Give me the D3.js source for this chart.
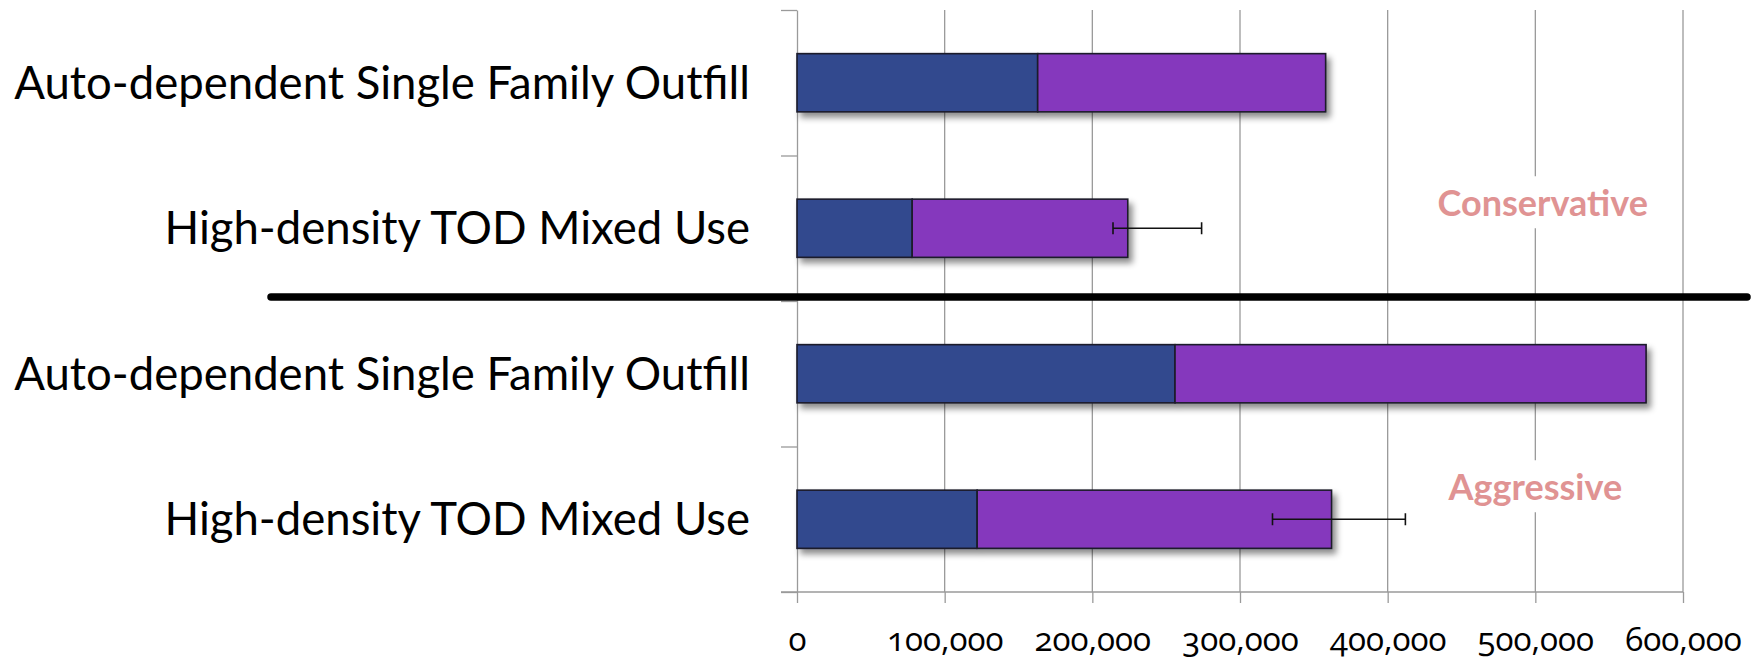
<!DOCTYPE html>
<html>
<head>
<meta charset="utf-8">
<script src="https://d3js.org/d3.v7.min.js"></script>
<style>
  body { margin: 0; background: #fff; }
  svg { display: block; }
</style>
</head>
<body>
<svg id="chart"></svg>
<script>
  // values
  var categories = [
    "Auto-dependent Single Family Outfill",
    "High-density TOD Mixed Use",
    "Auto-dependent Single Family Outfill",
    "High-density TOD Mixed Use"
  ];
  var seriesBlue = [163000, 78000, 256000, 122000];
  var seriesPurple = [195000, 146000, 319000, 240000];
  var errLow = [null, 214000, null, 322000];
  var errHigh = [null, 274000, null, 412000];
  var xTicks = [0, 100000, 200000, 300000, 400000, 500000, 600000];
  var notes = ["Conservative", "Aggressive"];
  var noteX = [505000, 500000];
  var noteRow = [1, 3];

  var width = 1763, height = 658;
  var plotLeft = 797, plotRight = 1683, plotTop = 10, plotBottom = 592;

  var svg = d3.select("#chart").attr("width", width).attr("height", height);

  var rows = categories.map(function(c, i) {
    return { id: i, label: c, blue: seriesBlue[i], purple: seriesPurple[i] };
  });
  var stacked = d3.stack().keys(["blue", "purple"])(rows);

  var x = d3.scaleLinear().domain([0, 600000]).range([plotLeft, plotRight]);
  var y = d3.scaleBand().domain(d3.range(categories.length))
    .range([plotTop, plotBottom]).paddingInner(0.6).paddingOuter(0.3);
  var yEdges = d3.scaleLinear().domain([0, categories.length]).range([plotTop, plotBottom]);

  var defs = svg.append("defs");
  var f = defs.append("filter").attr("id", "shadow")
    .attr("x", "-5%").attr("y", "-20%").attr("width", "115%").attr("height", "160%");
  f.append("feDropShadow").attr("dx", 4).attr("dy", 5).attr("stdDeviation", 3)
    .attr("flood-color", "#000").attr("flood-opacity", 0.45);

  // gridlines
  svg.append("g").selectAll("line")
    .data(xTicks.slice(1))
    .enter().append("line")
    .attr("x1", function(d) { return x(d); })
    .attr("x2", function(d) { return x(d); })
    .attr("y1", plotTop).attr("y2", plotBottom)
    .attr("stroke", "#9a9a9a").attr("stroke-width", 1.3);

  // x axis
  var xAxis = svg.append("g").attr("transform", "translate(0," + plotBottom + ")")
    .call(d3.axisBottom(x).tickValues(xTicks).tickSize(11).tickSizeOuter(0)
      .tickFormat(function(d) { return d3.format(",")(d); }));
  xAxis.select(".domain").remove();
  xAxis.selectAll(".tick line").attr("stroke", "#9a9a9a").attr("stroke-width", 1.3);
  xAxis.selectAll(".tick text")
    .attr("y", 59).attr("dy", 0)
    .attr("fill", "#000")
    .style("font-family", "'Open Sans', sans-serif")
    .style("font-size", "33px")
    .style("font-variant-numeric", "oldstyle-nums");
  svg.append("line")
    .attr("x1", plotLeft - 16).attr("x2", plotRight)
    .attr("y1", plotBottom).attr("y2", plotBottom)
    .attr("stroke", "#9a9a9a").attr("stroke-width", 1.3);

  // y axis with ticks at category edges
  var yAxis = svg.append("g").attr("transform", "translate(" + plotLeft + ",0)")
    .call(d3.axisLeft(yEdges).tickValues(d3.range(categories.length + 1))
      .tickSize(16).tickSizeOuter(0).tickFormat(""));
  yAxis.selectAll("path, line").attr("stroke", "#9a9a9a").attr("stroke-width", 1.3);

  // note boxes and text
  var noteG = svg.append("g").selectAll("g")
    .data(notes).enter().append("g");
  noteG.append("text")
    .attr("x", function(d, i) { return x(noteX[i]); })
    .attr("y", function(d, i) { return y(noteRow[i]) + y.bandwidth() / 2 - (i == 0 ? 12 : 19); })
    .attr("text-anchor", "middle")
    .attr("fill", "#e09393")
    .style("font-family", "Lato, sans-serif")
    .style("font-weight", "bold")
    .style("font-size", "36px")
    .text(function(d) { return d; });
  noteG.each(function() {
    var g = d3.select(this);
    var b = g.select("text").node().getBBox();
    g.insert("rect", "text")
      .attr("x", b.x - 6).attr("y", b.y - 4)
      .attr("width", b.width + 12).attr("height", b.height + 8)
      .attr("fill", "#fff");
  });

  // stacked bars
  var colors = { blue: "#30488e", purple: "#8538bd" };
  var barRows = svg.append("g").selectAll("g")
    .data(rows).enter().append("g")
    .attr("filter", "url(#shadow)");
  barRows.selectAll("rect")
    .data(function(d, i) { return stacked.map(function(s) { return { key: s.key, v: s[i], id: i }; }); })
    .enter().append("rect")
    .attr("x", function(d) { return x(d.v[0]); })
    .attr("y", function(d) { return y(d.id); })
    .attr("width", function(d) { return x(d.v[1]) - x(d.v[0]); })
    .attr("height", y.bandwidth())
    .attr("fill", function(d) { return colors[d.key]; })
    .attr("stroke", "#1c1c2a").attr("stroke-width", 1.6);

  // error bars
  var errG = svg.append("g").selectAll("g")
    .data(rows.filter(function(d) { return errLow[d.id] != null; }))
    .enter().append("g")
    .attr("stroke", "#111").attr("stroke-width", 1.6);
  errG.append("line")
    .attr("x1", function(d) { return x(errLow[d.id]); })
    .attr("x2", function(d) { return x(errHigh[d.id]); })
    .attr("y1", function(d) { return y(d.id) + y.bandwidth() / 2; })
    .attr("y2", function(d) { return y(d.id) + y.bandwidth() / 2; });
  [errLow, errHigh].forEach(function(arr) {
    errG.append("line")
      .attr("x1", function(d) { return x(arr[d.id]); })
      .attr("x2", function(d) { return x(arr[d.id]); })
      .attr("y1", function(d) { return y(d.id) + y.bandwidth() / 2 - 6; })
      .attr("y2", function(d) { return y(d.id) + y.bandwidth() / 2 + 6; });
  });

  // category labels
  svg.append("g").selectAll("text")
    .data(rows).enter().append("text")
    .attr("x", 750)
    .attr("y", function(d) { return y(d.id) + y.bandwidth() / 2 + 16; })
    .attr("text-anchor", "end")
    .attr("fill", "#000")
    .style("font-family", "Lato, sans-serif")
    .style("font-size", "45.5px")
    .text(function(d) { return d.label; });

  // divider between the two scenarios
  svg.append("line")
    .attr("x1", 271).attr("x2", 1747)
    .attr("y1", yEdges(2) - 4).attr("y2", yEdges(2) - 4)
    .attr("stroke", "#000").attr("stroke-width", 7.5)
    .attr("stroke-linecap", "round");
</script>
</body>
</html>
